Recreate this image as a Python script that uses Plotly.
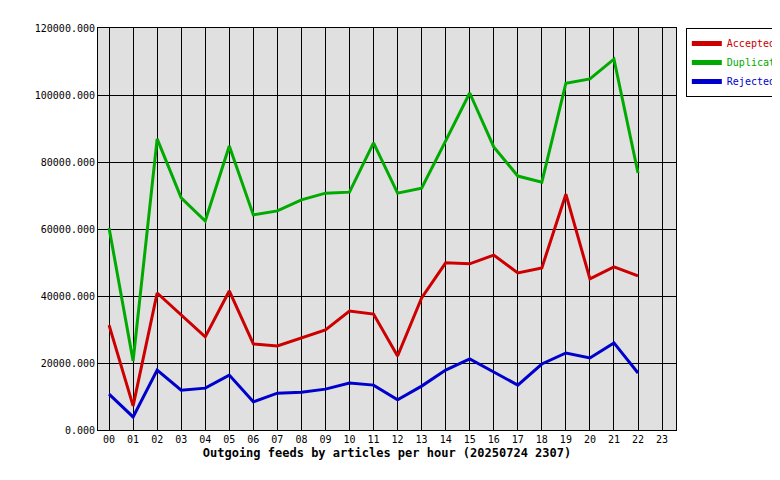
import plotly.graph_objects as go

hours = ['%02d' % h for h in range(24)]
accepted = [31300, 7200, 40900, 34300, 27800, 41500, 25700, 25100, 27500, 29900, 35500, 34600,
            22100, 39400, 49900, 49600, 52200, 46900, 48400, 70400, 45100, 48700, 46000]
duplicates = [60300, 20600, 86900, 69300, 62400, 84800, 64200, 65400, 68700, 70700, 71000, 85700,
              70700, 72200, 86300, 100600, 84500, 75800, 74000, 103500, 104800, 110700, 76700]
rejected = [10700, 3900, 17900, 11900, 12500, 16400, 8400, 11000, 11300, 12200, 14000, 13400,
            9000, 13100, 17900, 21200, 17300, 13400, 19700, 23000, 21500, 26000, 17000]

fig = go.Figure()
for name, vals, col in [('Accepted', accepted, '#cc0000'),
                        ('Duplicates', duplicates, '#00aa00'),
                        ('Rejected', rejected, '#0000cc')]:
    fig.add_trace(go.Scatter(x=list(range(len(vals))), y=vals, mode='lines',
                             name='<span style="color:%s">%s</span>' % (col, name),
                             line=dict(color=col, width=3)))

fig.update_layout(
    width=780, height=480,
    margin=dict(l=90, r=112, t=20, b=58, autoexpand=False),
    paper_bgcolor='white', plot_bgcolor='#e0e0e0',
    font=dict(family='DejaVu Sans Mono', size=10, color='black'),
    showlegend=True,
    legend=dict(x=1.017, y=1, xanchor='left', yanchor='top', bordercolor='black', borderwidth=1,
                font=dict(size=10), itemwidth=30, tracegroupgap=0, itemsizing='constant'),
    xaxis=dict(range=[-0.46, 23.58], tickvals=list(range(24)), ticktext=hours,
               showgrid=True, gridcolor='black', gridwidth=1, zeroline=False,
               showline=True, linecolor='black', mirror=True, ticks='',
               title=dict(text='<b>Outgoing feeds by articles per hour (20250724 2307)</b>',
                          standoff=4)),
    yaxis=dict(range=[0, 120000], dtick=20000, tickformat='.3f',
               showgrid=True, gridcolor='black', gridwidth=1, zeroline=False,
               showline=True, linecolor='black', mirror=True, ticks=''),
)
fig.write_html("out.html")
